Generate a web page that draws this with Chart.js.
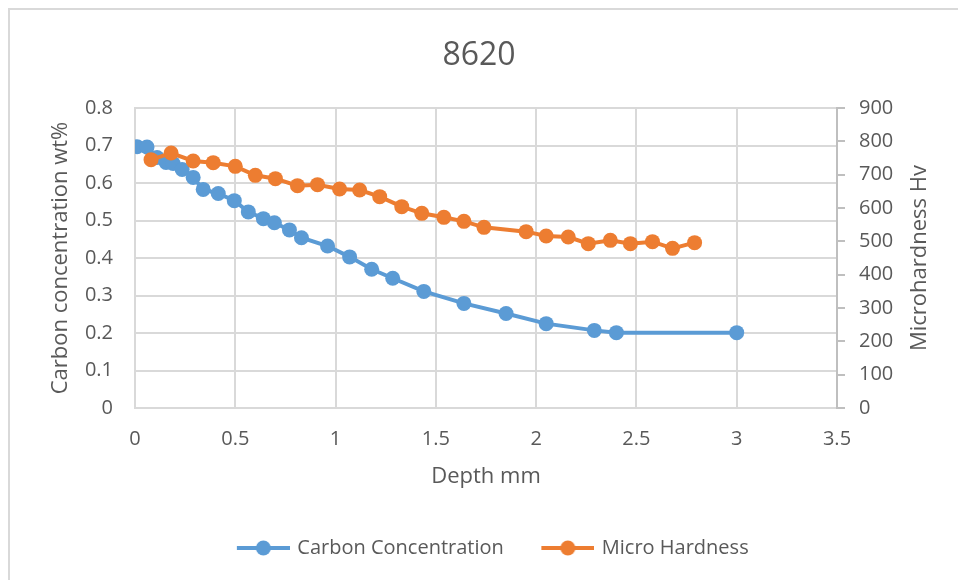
<!DOCTYPE html>
<html>
<head>
<meta charset="utf-8">
<script src="https://cdn.jsdelivr.net/npm/chart.js@4.4.1/dist/chart.umd.min.js"></script>
<style>
    html, body { margin: 0; padding: 0; background: #fff; overflow: hidden; }
    #frame {
        position: absolute; left: 8px; top: 8px; width: 1000px; height: 1000px;
        border-left: 2px solid #d9d9d9; border-top: 2px solid #d9d9d9;
    }
    #wrap { position: absolute; left: 0; top: 0; width: 958px; height: 580px; }
</style>
</head>
<body>
<div id="frame"></div>
<div id="wrap"><canvas id="chart" width="958" height="580"></canvas></div>
<script>
// Carbon profile (wt%) against depth
const depthCarbon = [0.01, 0.06, 0.11, 0.155, 0.19, 0.235, 0.29, 0.34, 0.415, 0.495, 0.565, 0.64, 0.695,
    0.77, 0.83, 0.96, 1.07, 1.18, 1.285, 1.44, 1.64, 1.85, 2.05, 2.29, 2.40, 3.00];
const carbon = [0.697, 0.696, 0.668, 0.655, 0.652, 0.636, 0.615, 0.583, 0.572, 0.553, 0.523, 0.505, 0.494,
    0.475, 0.454, 0.432, 0.403, 0.37, 0.346, 0.311, 0.279, 0.252, 0.225, 0.207, 0.201, 0.201];

// Microhardness (Hv) against depth
const depthHardness = [0.08, 0.18, 0.29, 0.39, 0.5, 0.6, 0.7, 0.81, 0.91, 1.02, 1.12, 1.22, 1.33,
    1.43, 1.54, 1.64, 1.74, 1.95, 2.05, 2.16, 2.26, 2.37, 2.47, 2.58, 2.68, 2.79];
const hardness = [745, 765, 741, 736, 725, 698, 688, 667, 670, 657, 654, 634, 604,
    584, 572, 560, 542, 529, 516, 513, 493, 503, 493, 499, 479, 496];

const seriesNames = ['Carbon Concentration', 'Micro Hardness'];
const chartTitle = '8620';
const xTitle = 'Depth mm';
const leftTitle = 'Carbon concentration wt%';
const rightTitle = 'Microhardness Hv';

const BLUE = '#5b9bd5';
const ORANGE = '#ed7d31';
const TEXT = '#595959';
const GRID = '#d9d9d9';

Chart.defaults.font.family = "'Open Sans', sans-serif";
Chart.defaults.color = TEXT;

function toPoints(xs, ys) {
    return xs.map((x, i) => ({ x: x, y: ys[i] }));
}

// plain number labels: 1 rather than 1.0
function plainNumber(value) {
    return String(Math.round(value * 100) / 100);
}

// legend marker: short line with a dot, leaving some blank room on the left
function legendMarker(color) {
    const c = document.createElement('canvas');
    c.width = 83;
    c.height = 18;
    const g = c.getContext('2d');
    g.strokeStyle = color;
    g.lineWidth = 4;
    g.beginPath();
    g.moveTo(30, 9);
    g.lineTo(83, 9);
    g.stroke();
    g.fillStyle = color;
    g.beginPath();
    g.arc(56.5, 9, 7.5, 0, Math.PI * 2);
    g.fill();
    return c;
}
const markers = [legendMarker(BLUE), legendMarker(ORANGE)];

// right axis title reads bottom-to-top
const rightTitlePlugin = {
    id: 'rightTitle',
    afterDraw(chart) {
        const ctx = chart.ctx;
        const area = chart.chartArea;
        ctx.save();
        ctx.translate(920, (area.top + area.bottom) / 2);
        ctx.rotate(-Math.PI / 2);
        ctx.font = "22px 'Open Sans', sans-serif";
        ctx.fillStyle = TEXT;
        ctx.textAlign = 'center';
        ctx.textBaseline = 'middle';
        ctx.fillText(rightTitle, 0, 0);
        ctx.restore();
    }
};

new Chart(document.getElementById('chart'), {
    type: 'line',
    data: {
        datasets: [
            {
                label: seriesNames[0],
                data: toPoints(depthCarbon, carbon),
                yAxisID: 'y',
                borderColor: BLUE,
                backgroundColor: BLUE,
                borderWidth: 4,
                pointRadius: 7.5,
                pointBorderWidth: 0,
                tension: 0,
                order: 1
            },
            {
                label: seriesNames[1],
                data: toPoints(depthHardness, hardness),
                yAxisID: 'y2',
                borderColor: ORANGE,
                backgroundColor: ORANGE,
                borderWidth: 4,
                pointRadius: 7.5,
                pointBorderWidth: 0,
                tension: 0,
                order: 0
            }
        ]
    },
    options: {
        responsive: false,
        animation: false,
        layout: { padding: { left: 0, right: 0, top: 0, bottom: 12 } },
        plugins: {
            tooltip: { enabled: false },
            title: {
                display: true,
                text: chartTitle,
                color: TEXT,
                font: { size: 32, weight: 'normal' },
                padding: { top: 37, bottom: 32.6 }
            },
            legend: {
                position: 'bottom',
                labels: {
                    usePointStyle: true,
                    pointStyleWidth: 78,
                    padding: 10,
                    color: TEXT,
                    font: { size: 20 },
                    generateLabels(chart) {
                        const items = Chart.defaults.plugins.legend.labels.generateLabels(chart);
                        items.sort((a, b) => a.datasetIndex - b.datasetIndex);
                        items.forEach(item => { item.pointStyle = markers[item.datasetIndex]; });
                        return items;
                    }
                }
            }
        },
        scales: {
            x: {
                type: 'linear',
                min: 0,
                max: 3.5,
                ticks: { stepSize: 0.5, padding: 19, font: { size: 20 }, callback: plainNumber },
                grid: { color: GRID, lineWidth: 2, drawTicks: false },
                border: { color: GRID, width: 2 },
                title: {
                    display: true,
                    text: xTitle,
                    font: { size: 22 },
                    padding: { top: 0, bottom: 37.8 }
                },
                afterFit(scale) { scale.height = 120; }
            },
            y: {
                position: 'left',
                min: 0,
                max: 0.8,
                ticks: { stepSize: 0.1, padding: 22, font: { size: 20 }, callback: plainNumber },
                grid: { color: GRID, lineWidth: 2, drawTicks: false },
                border: { color: GRID, width: 2 },
                title: {
                    display: true,
                    text: leftTitle,
                    font: { size: 22 },
                    padding: { top: 48, bottom: 0 }
                },
                afterFit(scale) { scale.width = 135; }
            },
            y2: {
                position: 'right',
                min: 0,
                max: 900,
                ticks: { stepSize: 100, padding: 14, font: { size: 20 } },
                grid: { drawOnChartArea: false, color: '#bfbfbf', lineWidth: 2, tickLength: 8 },
                border: { color: '#bfbfbf', width: 2 },
                afterFit(scale) { scale.width = 121; }
            }
        }
    },
    plugins: [rightTitlePlugin]
});
</script>
</body>
</html>
